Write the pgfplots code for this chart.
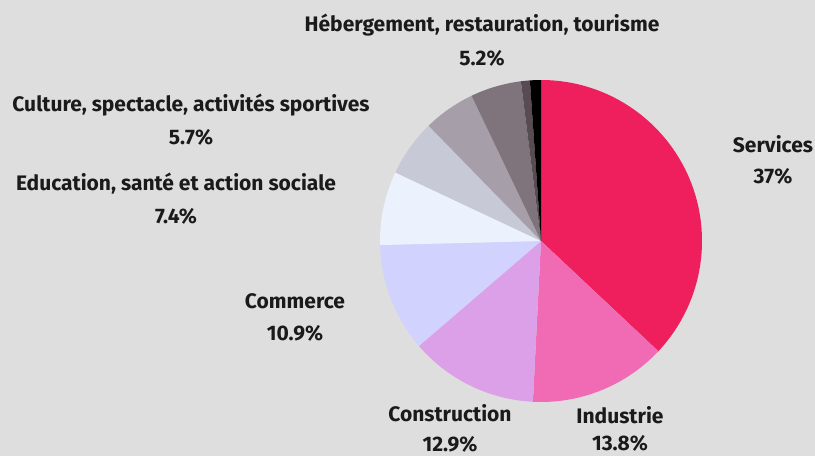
\documentclass[border=0pt]{standalone}
\usepackage{fontspec}
\setmainfont{Fira Sans}
\usepackage{pgfplots}
\pgfplotsset{compat=1.18}

\definecolor{bg}{HTML}{DEDEDE}
\definecolor{c1}{HTML}{EF1F5D}
\definecolor{c2}{HTML}{F06AB4}
\definecolor{c3}{HTML}{DCA0E8}
\definecolor{c4}{HTML}{D2D2FF}
\definecolor{c5}{HTML}{EBF2FE}
\definecolor{c6}{HTML}{C8C9D6}
\definecolor{c7}{HTML}{A69FAA}
\definecolor{c8}{HTML}{80747C}
\definecolor{c9}{HTML}{584C52}
\definecolor{c10}{HTML}{000000}
\definecolor{txt}{HTML}{1A1A1A}

\tikzset{lbl/.style={font=\fontsize{21}{24}\selectfont\bfseries, text=txt, inner sep=0pt}}

% share of each sector, clockwise from 12 o'clock
\pgfplotstableread{
pct col
37   c1
13.8 c2
12.9 c3
10.9 c4
7.4  c5
5.7  c6
5.2  c7
5.1  c8
0.9  c9
1.1  c10
}\piedata

\begin{document}
\begin{tikzpicture}
\begin{axis}[
 name=pie,
 width=815pt, height=456pt, scale only axis,
 xmin=0, xmax=815, ymin=0, ymax=456, y dir=reverse,
 hide axis, clip=false,
]
\fill[bg] (axis cs:0,0) rectangle (axis cs:815,456);
\def\cum{0}
\pgfplotsforeachungrouped \i in {0,...,9}{
 \pgfplotstablegetelem{\i}{pct}\of\piedata \let\p\pgfplotsretval
 \pgfplotstablegetelem{\i}{col}\of\piedata \let\c\pgfplotsretval
 \pgfmathsetmacro\a{90-\cum*3.6}
 \pgfmathsetmacro\b{90-(\cum+\p)*3.6}
 \edef\temp{\noexpand\fill[\c] (axis cs:541,241) -- ++(\a:161pt) arc[start angle=\a, end angle=\b, radius=161pt] -- cycle;}
 \temp
 \pgfmathsetmacro\cum{\cum+\p}
}
\node[lbl] at (axis cs:482,25) {Hébergement, restauration, tourisme};
\node[lbl] at (axis cs:482,58) {5.2\%};
\node[lbl] at (axis cs:191,105) {Culture, spectacle, activités sportives};
\node[lbl] at (axis cs:191,137) {5.7\%};
\node[lbl] at (axis cs:176,184) {Education, santé et action sociale};
\node[lbl] at (axis cs:176,216) {7.4\%};
\node[lbl] at (axis cs:295,301) {Commerce};
\node[lbl] at (axis cs:295,333) {10.9\%};
\node[lbl] at (axis cs:450,413) {Construction};
\node[lbl] at (axis cs:450,444) {12.9\%};
\node[lbl] at (axis cs:620,415) {Industrie};
\node[lbl] at (axis cs:620,443) {13.8\%};
\node[lbl] at (axis cs:773,144) {Services};
\node[lbl] at (axis cs:773,176) {37\%};
\end{axis}
\pgfresetboundingbox
\useasboundingbox (pie.south west) rectangle (pie.north east);
\end{tikzpicture}
\end{document}
